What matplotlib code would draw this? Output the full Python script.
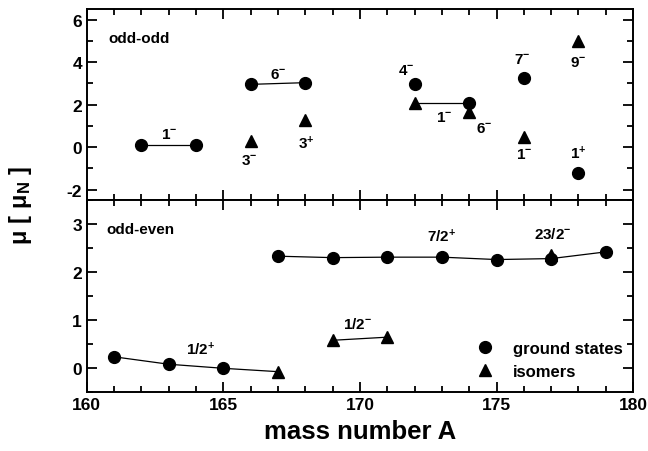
import matplotlib
matplotlib.use("Agg")
from matplotlib import pyplot as plt
from matplotlib.ticker import MultipleLocator

plt.rcParams['font.family'] = ['Liberation Sans', 'DejaVu Sans']
plt.rcParams['font.weight'] = 'bold'
plt.rcParams['axes.unicode_minus'] = False
plt.rcParams['mathtext.fontset'] = 'custom'
plt.rcParams['mathtext.rm'] = 'Liberation Sans:bold'
plt.rcParams['mathtext.bf'] = 'Liberation Sans:bold'
plt.rcParams['mathtext.it'] = 'Liberation Sans:bold'

# odd-odd nuclei
oo_gs_pairs = [([162, 164], [0.08, 0.08]), ([166, 168], [2.95, 3.03])]
oo_gs_single_A = [172, 176, 178]
oo_gs_single_mu = [2.97, 3.25, -1.22]
oo_iso_A = [166, 168, 174, 176, 178]
oo_iso_mu = [0.30, 1.28, 1.64, 0.45, 4.98]
oo_link_A = [172, 174]          # isomer at 172 joined to ground state at 174
oo_link_mu = [2.08, 2.08]
oo_labels = ['1^{-}', '6^{-}', '3^{-}', '3^{+}', '4^{-}', '1^{-}', '6^{-}',
             '7^{-}', '1^{-}', '9^{-}', '1^{+}']
oo_label_A = [163.0, 167.0, 165.95, 168.05, 171.7, 173.1, 174.55, 175.95, 176.0, 178.0, 178.0]
oo_label_mu = [0.62, 3.45, -0.62, 0.22, 3.62, 1.42, 0.9, 4.15, -0.35, 4.0, -0.27]

# odd-even nuclei
oe_gs_A1 = [161, 163, 165]
oe_gs_mu1 = [0.23, 0.075, -0.01]
oe_iso_A1 = [167]
oe_iso_mu1 = [-0.08]
oe_iso_A2 = [169, 171]
oe_iso_mu2 = [0.575, 0.64]
oe_gs_A2 = [167, 169, 171, 173, 175, 177, 179]
oe_gs_mu2 = [2.33, 2.30, 2.31, 2.31, 2.26, 2.28, 2.42]
oe_iso_A3 = [177]
oe_iso_mu3 = [2.36]
oe_labels = ['1/2^{+}', '1/2^{-}', '7/2^{+}', '23/2^{-}']
oe_label_A = [164.15, 169.9, 173.0, 177.05]
oe_label_mu = [0.39, 0.92, 2.76, 2.8]

fig = plt.figure(figsize=(6.48, 4.52), dpi=100)
ax1 = fig.add_axes([0.134, 0.555, 0.843, 0.423])
ax2 = fig.add_axes([0.134, 0.131, 0.843, 0.424], sharex=ax1)

ms = 8.5
mk = dict(color='black', linestyle='none', markersize=ms)
ln = dict(color='black', linewidth=0.9)

# top panel
for a, m in oo_gs_pairs:
    ax1.plot(a, m, marker='o', **ln, markersize=ms)
ax1.plot(oo_link_A, oo_link_mu, **ln)
ax1.plot(oo_link_A[1], oo_link_mu[1], marker='o', **mk)
ax1.plot(oo_link_A[0], oo_link_mu[0], marker='^', **mk)
ax1.plot(oo_gs_single_A, oo_gs_single_mu, marker='o', **mk)
ax1.plot(oo_iso_A, oo_iso_mu, marker='^', **mk)
for t, x, y in zip(oo_labels, oo_label_A, oo_label_mu):
    ax1.text(x, y, '$' + t + '$', ha='center', va='center', fontsize=11)
ax1.text(160.8, 5.15, 'odd-odd', fontsize=11, fontweight='bold', va='center')
ax1.set_ylim(-2.5, 6.5)
ax1.yaxis.set_major_locator(MultipleLocator(2))
ax1.yaxis.set_minor_locator(MultipleLocator(1))

# bottom panel
ax2.plot(oe_gs_A1 + oe_iso_A1, oe_gs_mu1 + oe_iso_mu1, **ln)
ax2.plot(oe_gs_A1, oe_gs_mu1, marker='o', **mk)
ax2.plot(oe_iso_A1, oe_iso_mu1, marker='^', **mk)
ax2.plot(oe_iso_A2, oe_iso_mu2, marker='^', **ln, markersize=ms)
ax2.plot(oe_gs_A2, oe_gs_mu2, marker='o', **ln, markersize=ms)
ax2.plot(oe_iso_A3, oe_iso_mu3, marker='^', **mk)
for t, x, y in zip(oe_labels, oe_label_A, oe_label_mu):
    ax2.text(x, y, '$' + t + '$', ha='center', va='center', fontsize=11)
ax2.text(160.7, 2.89, 'odd-even', fontsize=11, fontweight='bold', va='center')
ax2.set_ylim(-0.5, 3.5)
ax2.yaxis.set_major_locator(MultipleLocator(1))
ax2.yaxis.set_minor_locator(MultipleLocator(0.5))

# legend
h1, = ax2.plot([], [], marker='o', **mk)
h2, = ax2.plot([], [], marker='^', **mk)
ax2.legend([h1, h2], ['ground states', 'isomers'], loc='lower right',
           frameon=False, fontsize=12, handlelength=1.0, handletextpad=1.2,
           borderaxespad=0.6, labelspacing=0.5, bbox_to_anchor=(1.012, -0.02))

ax1.set_xlim(160, 180)
ax1.xaxis.set_major_locator(MultipleLocator(5))
ax1.xaxis.set_minor_locator(MultipleLocator(1))
for ax in (ax1, ax2):
    for s in ax.spines.values():
        s.set_linewidth(1.4)
    ax.tick_params(which='both', direction='in', top=True, right=True, width=1.3)
    ax.tick_params(which='major', length=7, labelsize=12.5)
    ax.tick_params(which='minor', length=4)
    for lab in ax.get_yticklabels():
        lab.set_fontweight('bold')
ax1.tick_params(labelbottom=False)
for lab in ax2.get_xticklabels():
    lab.set_fontweight('bold')

ax2.set_xlabel('mass number A', fontsize=18.5, fontweight='bold', labelpad=5)
fig.text(0.032, 0.546, r'$\mathrm{\mu\ [\ \mu_N\ ]}$', rotation=90,
         ha='center', va='center', fontsize=17)

fig.savefig('out.png', dpi=100)
